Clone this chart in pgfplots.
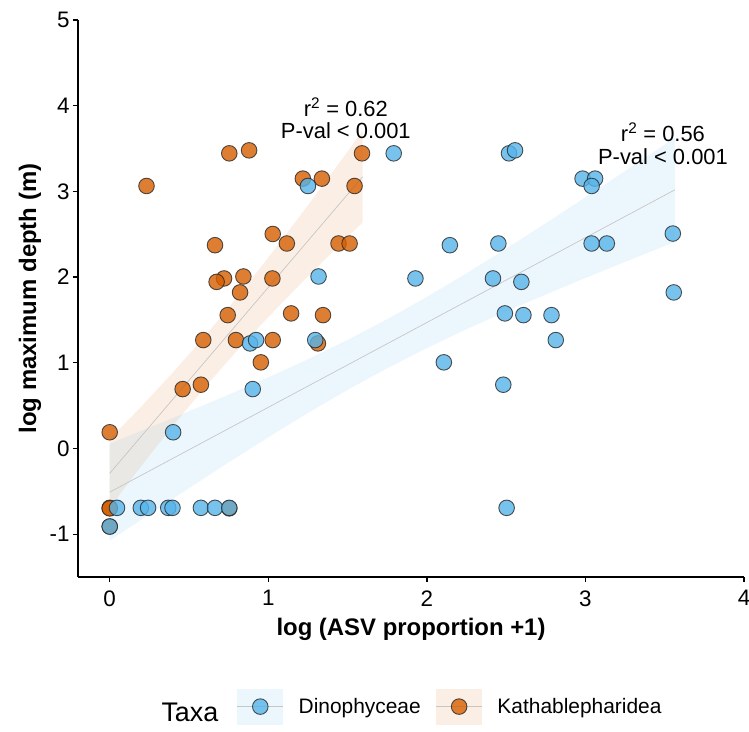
\documentclass[border=0pt]{standalone}
\usepackage{fontspec}
\setmainfont{Liberation Sans}
\usepackage{pgfplots}
\usepackage{pgfplotstable}
\pgfplotsset{compat=1.18}
\definecolor{dino}{HTML}{56B4E9}
\definecolor{katha}{HTML}{D55E00}

\pgfplotstableread{
x y
0.754 3.444
0.879 3.479
1.591 3.444
0.232 3.063
1.218 3.149
1.338 3.149
1.544 3.063
1.028 2.503
0.664 2.372
1.117 2.392
1.443 2.392
1.513 2.392
0.721 1.984
0.674 1.944
0.843 2.007
1.026 1.984
0.822 1.821
0.744 1.556
1.144 1.576
1.345 1.556
0.590 1.265
0.796 1.265
1.028 1.265
1.313 1.226
0.953 1.005
0.575 0.744
0.460 0.693
0.000 0.189
0.000 -0.693
0.000 -0.699
0.754 -0.699
0.000 -0.911
}\katha

\pgfplotstableread{
x y
1.791 3.444
1.250 3.063
1.317 2.007
0.885 1.226
0.923 1.265
1.296 1.265
0.902 0.693
0.400 0.189
0.046 -0.693
0.196 -0.693
0.242 -0.693
0.369 -0.693
0.396 -0.693
0.575 -0.693
0.664 -0.693
0.754 -0.693
0.000 -0.911
2.518 3.444
2.556 3.479
2.982 3.149
3.061 3.149
3.039 3.063
3.551 2.508
2.145 2.372
2.451 2.392
3.039 2.392
3.135 2.392
1.928 1.984
2.417 1.984
2.596 1.944
3.557 1.821
2.492 1.576
2.609 1.556
2.786 1.556
2.813 1.265
2.107 1.005
2.482 0.744
2.503 -0.693
}\dino

\begin{document}
\begin{tikzpicture}
\useasboundingbox (-78bp,-155bp) rectangle (671bp,577bp);
\begin{axis}[
  at={(0,0)}, anchor=south west,
  scale only axis, width=666bp, height=557bp,
  xmin=-0.2, xmax=4, ymin=-1.5, ymax=5,
  axis lines=left,
  axis line style={-, line width=1.6bp, black},
  xtick={0,1,2,3,4}, ytick={-1,0,1,2,3,4,5},
  tick style={black, line width=1.3bp},
  major tick length=5bp, tick align=outside,
  ticklabel style={font=\fontsize{22.5}{26}\selectfont},
  xticklabel style={yshift=-5bp},
  /pgf/number format/assume math mode=true,
  xlabel={log (ASV proportion +1)},
  ylabel={log maximum depth (m)},
  label style={font=\fontsize{24}{28}\selectfont\bfseries},
  x label style={at={(axis description cs:0.5,-0.0933)}, anchor=center},
  y label style={at={(axis description cs:-0.072,0.5)}, anchor=center, rotate=0},
  clip=false,
  legend columns=-1,
  legend style={at={(0.5574,-0.2327)}, anchor=center, draw=none, fill=none,
    inner sep=0pt, font=\fontsize{21}{25}\selectfont,
    nodes={inner sep=0pt},
    /tikz/every odd column/.append style={column sep=15bp},
    /tikz/every even column/.append style={column sep=15bp}},
]
% confidence bands
\addplot[draw=none, fill=katha, fill opacity=0.10, forget plot] coordinates {
 (0,0.110) (0.2,0.491) (0.4,0.889) (0.6,1.310) (0.8,1.757) (1.0,2.227) (1.2,2.714) (1.4,3.212) (1.595,3.704)
 (1.595,2.638) (1.4,2.284) (1.2,1.914) (1.0,1.533) (0.8,1.135) (0.6,0.714) (0.4,0.267) (0.2,-0.203) (0,-0.690)
} -- cycle;
\addplot[draw=none, fill=dino, fill opacity=0.11, forget plot] coordinates {
 (0,0.057) (0.25,0.244) (0.5,0.434) (0.75,0.628) (1.0,0.830) (1.25,1.041) (1.5,1.267) (1.75,1.509) (2.0,1.769) (2.25,2.044) (2.5,2.332) (2.75,2.629) (3.0,2.931) (3.25,3.238) (3.565,3.627)
 (3.565,2.411) (3.25,2.177) (3.0,1.989) (2.75,1.796) (2.5,1.598) (2.25,1.391) (2.0,1.171) (1.75,0.936) (1.5,0.683) (1.25,0.414) (1.0,0.130) (0.75,-0.163) (0.5,-0.464) (0.25,-0.769) (0,-1.077)
} -- cycle;
% fitted lines
\addplot[gray!45, line width=0.7bp, forget plot] coordinates {(0,-0.29) (1.595,3.171)};
\addplot[gray!45, line width=0.7bp, forget plot] coordinates {(0,-0.51) (3.565,3.019)};
% points
\addplot[only marks, mark=*, mark size=7.8bp, forget plot,
  mark options={fill=katha, fill opacity=0.8, draw=black!85, draw opacity=0.8, line width=0.9bp}]
  table {\katha};
\addplot[only marks, mark=*, mark size=7.8bp, forget plot,
  mark options={fill=dino, fill opacity=0.8, draw=black!85, draw opacity=0.8, line width=0.9bp}]
  table {\dino};
% annotations
\node[anchor=base, font=\fontsize{22}{26}\selectfont] at (axis cs:1.489,3.879) {r\textsuperscript{2} = 0.62};
\node[anchor=base, font=\fontsize{22}{26}\selectfont] at (axis cs:1.489,3.615) {P-val < 0.001};
\node[anchor=base, font=\fontsize{22}{26}\selectfont] at (axis cs:3.489,3.587) {r\textsuperscript{2} = 0.56};
\node[anchor=base, font=\fontsize{22}{26}\selectfont] at (axis cs:3.489,3.316) {P-val < 0.001};
% legend
\node[anchor=base west, font=\fontsize{27}{32}\selectfont] at (axis description cs:0.1201,-0.2603) {Taxa};
\addlegendimage{legend image code/.code={
  \path[draw=none, fill=dino, fill opacity=0.11] (0bp,-18bp) rectangle (46bp,18bp);
  \draw[gray!45, line width=0.7bp] (0bp,0bp) -- (46bp,0bp);
  \filldraw[fill=dino, fill opacity=0.8, draw=black!85, draw opacity=0.8, line width=0.9bp] (23bp,0bp) circle (7.8bp);
}}
\addlegendentry{Dinophyceae}
\addlegendimage{legend image code/.code={
  \path[draw=none, fill=katha, fill opacity=0.10] (0bp,-18bp) rectangle (46bp,18bp);
  \draw[gray!45, line width=0.7bp] (0bp,0bp) -- (46bp,0bp);
  \filldraw[fill=katha, fill opacity=0.8, draw=black!85, draw opacity=0.8, line width=0.9bp] (23bp,0bp) circle (7.8bp);
}}
\addlegendentry{Kathablepharidea}
\end{axis}
\end{tikzpicture}
\end{document}
